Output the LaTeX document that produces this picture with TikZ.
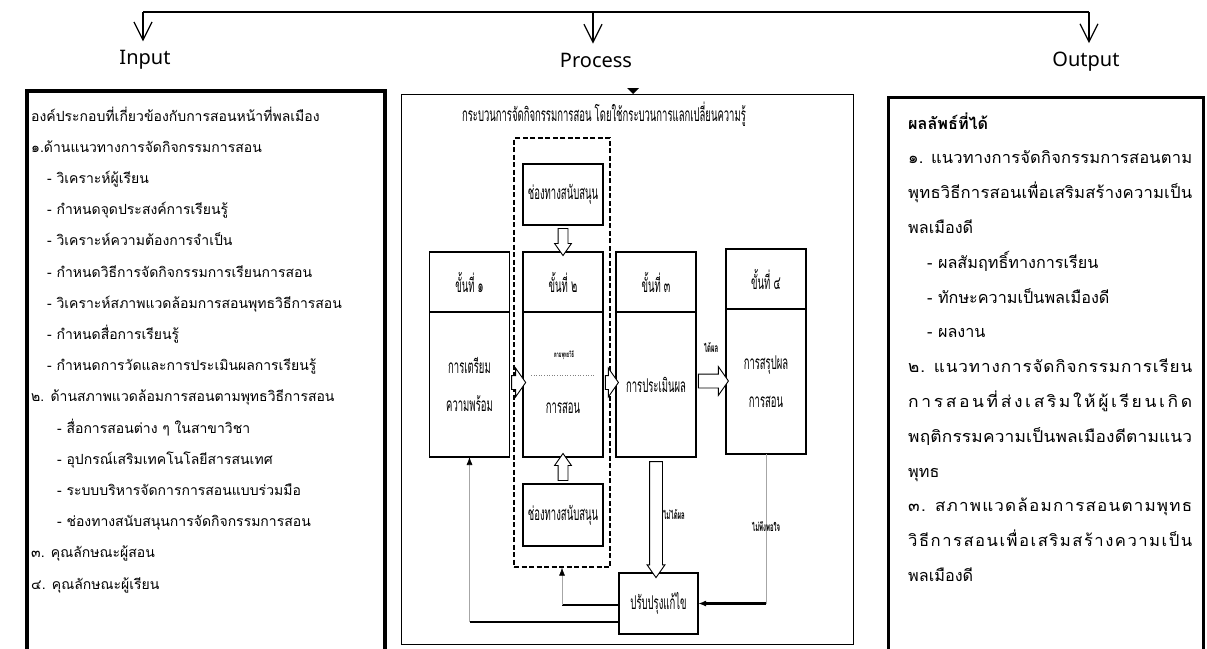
\documentclass[tikz,border=0pt]{standalone}
\usepackage{fontspec}
\usepackage{graphicx}
\setmainfont[Script=Thai]{Loma}
\newfontfamily\latinfont{Noto Sans}
\newfontfamily\narrowthai[Script=Thai,FakeStretch=0.5]{Loma}
\usetikzlibrary{positioning}
\usetikzlibrary{calc}
\usetikzlibrary{arrows.meta}
\usetikzlibrary{shapes.arrows}
% a line spread over the whole width of the output box
\newcommand{\fullline}[2]{\resizebox{284pt}{\height}{\addfontfeature{LetterSpace=#1}#2}}
\tikzset{%
  toplabel/.style = {inner sep=0pt,font=\latinfont\fontsize{20}{22}\selectfont},
  topdown/.style = {-{Straight Barb[length=18pt,width=18pt]},line width=1.2pt},
  stephead/.style = {rectangle,draw,line width=1.2pt,minimum width=80pt,
        minimum height=60pt,inner sep=0pt,outer sep=0pt,align=center,
        font=\narrowthai\fontsize{19}{38}\selectfont},
  stepbody/.style = {stephead,minimum height=145pt},
  hollowh/.style = {single arrow,draw,line width=0.9pt,fill=white,
        inner xsep=0pt,inner ysep=6.5pt,outer sep=0pt,
        single arrow head extend=7.5pt,single arrow tip angle=110},
  hollowv/.style = {hollowh,inner ysep=4.5pt,
        single arrow head extend=3.5pt,single arrow tip angle=70},
  thickline/.style = {line width=2.4pt},
  thinline/.style = {line width=0.6pt,gray!70},
  filltip/.style = {-{Latex[length=8pt,width=6pt,black]}},
  smalllabel/.style = {inner sep=0pt,font=\narrowthai\bfseries\fontsize{12}{14}\selectfont},
  tinylabel/.style = {inner sep=0pt,font=\narrowthai\bfseries\fontsize{8}{10}\selectfont},
  outline/.style = {anchor=base west,inner sep=0pt,font=\fontsize{16.2}{20}\selectfont}
}

\begin{document}
\begin{tikzpicture}[x=1pt,y=-1pt]
\useasboundingbox (0,0) rectangle (1207,648);

% top bar with the three arrows
\coordinate (tin) at (143,12);
\coordinate (tpro) at (593,12);
\coordinate (tout) at (1089,12);
\draw[line width=1.6pt] (tin) -- (tout);
\node[toplabel] (input) at (145,60) {Input};
\node[toplabel] (process) at (596,60) {Process};
\node[toplabel] (output) at (1086,62) {Output};
\draw[topdown,shorten >=9pt] (tin) -- (tin |- input.north);
\draw[topdown,shorten >=9pt] (tpro) -- (tpro |- process.north);
\draw[topdown,shorten >=9pt] (tout) -- (tout |- output.north);

% input (base = baseline of the last line)
\node[draw,line width=4pt,minimum width=358pt,minimum height=575pt,
  anchor=north west,inner sep=0pt] (inputbox) at (25,89) {};
\node[anchor=base west,align=left,inner sep=0pt,
  font=\fontsize{14}{31.2}\selectfont] (inputtext) at (31,589) {%
องค์ประกอบที่เกี่ยวข้องกับการสอนหน้าที่พลเมือง\\
๑.ด้านแนวทางการจัดกิจกรรมการสอน\\
\hspace*{16pt}- วิเคราะห์ผู้เรียน\\
\hspace*{16pt}- กำหนดจุดประสงค์การเรียนรู้\\
\hspace*{16pt}- วิเคราะห์ความต้องการจำเป็น\\
\hspace*{16pt}- กำหนดวิธีการจัดกิจกรรมการเรียนการสอน\\
\hspace*{16pt}- วิเคราะห์สภาพแวดล้อมการสอนพุทธวิธีการสอน\\
\hspace*{16pt}- กำหนดสื่อการเรียนรู้\\
\hspace*{16pt}- กำหนดการวัดและการประเมินผลการเรียนรู้\\
๒. ด้านสภาพแวดล้อมการสอนตามพุทธวิธีการสอน\\
\hspace*{26pt}- สื่อการสอนต่าง ๆ ในสาขาวิชา\\
\hspace*{26pt}- อุปกรณ์เสริมเทคโนโลยีสารสนเทศ\\
\hspace*{26pt}- ระบบบริหารจัดการการสอนแบบร่วมมือ\\
\hspace*{26pt}- ช่องทางสนับสนุนการจัดกิจกรรมการสอน\\
๓. คุณลักษณะผู้สอน\\
๔. คุณลักษณะผู้เรียน};

% process
\node[draw,line width=1.2pt,minimum width=452pt,minimum height=550pt,
  anchor=north west,inner sep=0pt] (procbox) at (401,94) {};
\fill (627,88) -- (639,88) -- (633,94) -- cycle;
\node[inner sep=0pt,font=\narrowthai\fontsize{19}{22}\selectfont] (proctitle) at (604,114)
  {กระบวนการจัดกิจกรรมการสอน โดยใช้กระบวนการแลกเปลี่ยนความรู้};
\node[draw,dash pattern=on 5pt off 2.5pt,line width=1.3pt,minimum width=96pt,
  minimum height=429pt,inner sep=0pt] (dashbox) at (562,352.5) {};

\node[stephead] (step1head) at (469.5,282) {ขั้นที่ ๑};
\node[stepbody,below=0pt of step1head] (step1body) {การเตรียม\\ความพร้อม};
\node[stephead,right=13.5pt of step1head] (step2head) {ขั้นที่ ๒};
\node[stepbody,below=0pt of step2head] (step2body) {};
\node[stephead,right=13pt of step2head] (step3head) {ขั้นที่ ๓};
\node[stepbody,below=0pt of step3head] (step3body) {การประเมินผล};
\node[stephead,right=30pt of step3head,yshift=3pt] (step4head) {ขั้นที่ ๔};
\node[stepbody,below=0pt of step4head] (step4body) {การสรุปผล\\การสอน};

\node[tinylabel] (buddha) at (564,355) {ตามพุทธวิธี};
\draw[dotted,gray,line width=0.6pt] (531,375) -- (595,375);
\node[inner sep=0pt,font=\narrowthai\fontsize{19}{22}\selectfont] (teach) at (563,408) {การสอน};

\node[stephead,minimum height=61pt,above=27pt of step2head] (support1) {ช่องทางสนับสนุน};
\node[stephead,minimum height=62pt,below=27pt of step2body] (support2) {ช่องทางสนับสนุน};
\node[stephead,minimum width=79pt,minimum height=61pt] (fix) at (658.5,603.5) {ปรับปรุงแก้ไข};

% hollow arrows
\node[hollowh,minimum height=14pt] (a12) at ($(step1body.east)!.5!(step2body.west)+(0,-2)$) {};
\node[hollowh,minimum height=13pt] (a23) at ($(step2body.east)!.5!(step3body.west)+(0,-2)$) {};
\node[hollowh,minimum height=30pt] (a34) at ($(step3body.east)!.5!(step4body.west)+(0,-2)$) {};
\node[hollowv,minimum height=27pt,rotate=-90] (s1arrow) at ($(support1.south)!.5!(step2head.north)$) {};
\node[hollowv,minimum height=27pt,rotate=90] (s2arrow) at ($(support2.north)!.5!(step2body.south)$) {};
\node[hollowv,minimum height=116pt,inner ysep=6pt,single arrow head extend=2.5pt,
  rotate=-90] (a3fix) at ($(step3body.south)!.5!(step3body.south |- fix.north)$) {};

\node[smalllabel] (good) at (711,348) {ได้ผล};
\node[smalllabel] (notgood) at (674,515) {ไม่ได้ผล};

% feedback lines
\draw[thinline] (step4body.south) -- (step4body.south |- fix.east) coordinate (back4);
\node[smalllabel] (unsat) at (766,527) {ไม่พึงพอใจ};
\draw[thickline,filltip] (back4) -- (fix.east);
\coordinate (fixw1) at ([yshift=-1.5pt]fix.west);
\coordinate (fixw2) at ([yshift=-18.5pt]fix.west);
\draw[thickline] (fixw1) -- (dashbox.south |- fixw1) coordinate (back2);
\draw[thinline,filltip] (back2) -- (dashbox.south);
\draw[thickline] (fixw2) -- (step1body.south |- fixw2) coordinate (back1);
\draw[thinline,filltip] (back1) -- (step1body.south);

% output
\node[draw,line width=3pt,minimum width=315pt,minimum height=565pt,
  anchor=north west,inner sep=0pt] (outputbox) at (887,96) {};
\foreach \txt [count=\i] in {%
  \textbf{ผลลัพธ์ที่ได้},
  \fullline{1}{๑. แนวทางการจัดกิจกรรมการสอนตาม},
  \fullline{1}{พุทธวิธีการสอนเพื่อเสริมสร้างความเป็น},
  พลเมืองดี,
  \hspace*{19pt}- ผลสัมฤทธิ์ทางการเรียน,
  \hspace*{19pt}- ทักษะความเป็นพลเมืองดี,
  \hspace*{19pt}- ผลงาน,
  \fullline{5}{๒. แนวทางการจัดกิจกรรมการเรียน},
  \fullline{15}{การสอนที่ส่งเสริมให้ผู้เรียนเกิด},
  \fullline{1}{พฤติกรรมความเป็นพลเมืองดีตามแนว},
  พุทธ,
  \fullline{7}{๓. สภาพแวดล้อมการสอนตามพุทธ},
  \fullline{9}{วิธีการสอนเพื่อเสริมสร้างความเป็น},
  พลเมืองดี}
  \node[outline] (out\i) at (908,{129+34.8*(\i-1)}) {\txt};
\end{tikzpicture}
\end{document}
